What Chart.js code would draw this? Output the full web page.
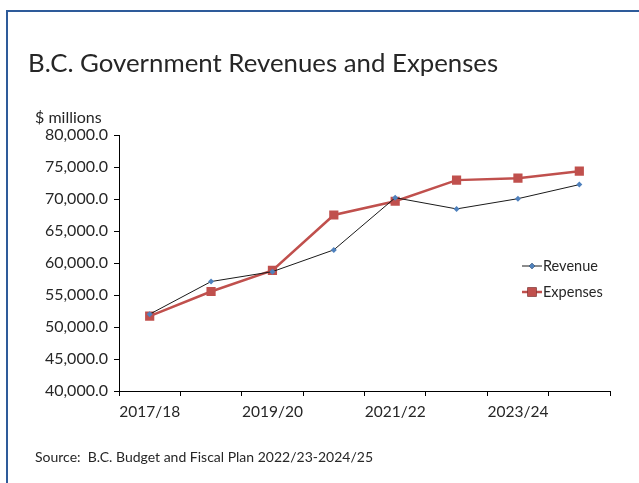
<!DOCTYPE html>
<html>
<head>
<meta charset="utf-8">
<script src="https://cdn.jsdelivr.net/npm/chart.js@4/dist/chart.umd.min.js"></script>
<style>
  html, body { margin: 0; padding: 0; background: #fff; }
  #wrap { position: relative; width: 639px; height: 483px; overflow: hidden; font-family: Lato, "Open Sans", sans-serif; color: #262626; }
  #frame { position: absolute; left: 6px; top: 10px; width: 700px; height: 600px; border-left: 2px solid #2e5b9a; border-top: 2px solid #2e5b9a; }
  #title { position: absolute; left: 28px; top: 47px; font-size: 25.8px; white-space: nowrap; }
  #unit { position: absolute; left: 35px; top: 107px; font-size: 16px; white-space: nowrap; }
  #source { position: absolute; left: 35px; top: 448px; font-size: 14px; white-space: nowrap; }
  #legend { position: absolute; left: 522px; top: 256px; font-size: 14.5px; }
  .li { position: relative; height: 26px; line-height: 18px; white-space: nowrap; }
  .li canvas { vertical-align: middle; }
  .li span { vertical-align: middle; margin-left: 1px; }
  canvas#c { position: absolute; left: 0; top: 0; }
</style>
</head>
<body>
<div id="wrap">
  <div id="frame"></div>
  <canvas id="c" width="639" height="483"></canvas>
  <div id="title">B.C. Government Revenues and Expenses</div>
  <div id="unit">$ millions</div>
  <div id="legend"></div>
  <div id="source">Source:&nbsp; B.C. Budget and Fiscal Plan 2022/23-2024/25</div>
</div>
<script>
const categories = ["2017/18", "2018/19", "2019/20", "2020/21", "2021/22", "2022/23", "2023/24", "2024/25"];
const revenue  = [52000, 57100, 58650, 62050, 70200, 68450, 70050, 72250];
const expenses = [51700, 55550, 58850, 67500, 69650, 72950, 73250, 74350];
const yTicks = [40000, 45000, 50000, 55000, 60000, 65000, 70000, 75000, 80000];

const seriesStyle = [
  { label: "Revenue", data: revenue, borderColor: "#1a1a1a", borderWidth: 1, pointStyle: "rectRot", pointRadius: 3, pointBackgroundColor: "#4f81bd", pointBorderColor: "#4f81bd", pointBorderWidth: 0 },
  { label: "Expenses", data: expenses, borderColor: "#c0504d", borderWidth: 2.5, pointStyle: "rect", pointRadius: 6.5, pointBackgroundColor: "#c0504d", pointBorderColor: "#c0504d", pointBorderWidth: 0 }
];

const fontFam = "Lato, 'Open Sans', sans-serif";
const chart = new Chart(document.getElementById("c"), {
  type: "line",
  data: {
    labels: categories,
    datasets: seriesStyle.map(s => Object.assign({ tension: 0, fill: false }, s))
  },
  options: {
    responsive: false,
    animation: false,
    events: [],
    layout: { padding: { left: 0, top: 135, right: 29, bottom: 52 } },
    plugins: { legend: { display: false }, tooltip: { enabled: false }, title: { display: false } },
    scales: {
      x: {
        type: "category",
        offset: true,
        grid: { offset: true, drawOnChartArea: false, drawTicks: true, tickLength: 5, color: "#000", lineWidth: 1 },
        border: { display: true, color: "#000", width: 1 },
        ticks: {
          autoSkip: false, maxRotation: 0, padding: 7, color: "#262626",
          font: { family: fontFam, size: 15.5 },
          callback: (v, i) => (i % 2 === 0 ? categories[i] : "")
        },
        afterFit: s => { s.height = 40; }
      },
      y: {
        min: yTicks[0], max: yTicks[yTicks.length - 1],
        afterBuildTicks: s => { s.ticks = yTicks.map(v => ({ value: v })); },
        grid: { drawOnChartArea: false, drawTicks: true, tickLength: 5, color: "#000", lineWidth: 1 },
        border: { display: true, color: "#000", width: 1 },
        ticks: {
          padding: 6, color: "#262626",
          font: { family: fontFam, size: 16 },
          callback: v => Number(v).toLocaleString("en-US", { minimumFractionDigits: 1, maximumFractionDigits: 1 })
        },
        afterFit: s => { s.width = 119; }
      }
    }
  }
});

// HTML legend built from dataset styles
const leg = document.getElementById("legend");
seriesStyle.forEach(s => {
  const row = document.createElement("div");
  row.className = "li";
  const cv = document.createElement("canvas");
  cv.width = 20; cv.height = 16;
  const ctx = cv.getContext("2d");
  ctx.strokeStyle = s.borderColor; ctx.lineWidth = s.borderWidth;
  ctx.beginPath(); ctx.moveTo(0, 8); ctx.lineTo(20, 8); ctx.stroke();
  Chart.helpers.drawPoint(ctx, { pointStyle: s.pointStyle, radius: s.pointRadius, borderWidth: 0 }, 10, 8);
  ctx.fillStyle = s.pointBackgroundColor;
  ctx.fill();
  row.appendChild(cv);
  const sp = document.createElement("span");
  sp.textContent = s.label;
  row.appendChild(sp);
  leg.appendChild(row);
});
</script>
</body>
</html>
